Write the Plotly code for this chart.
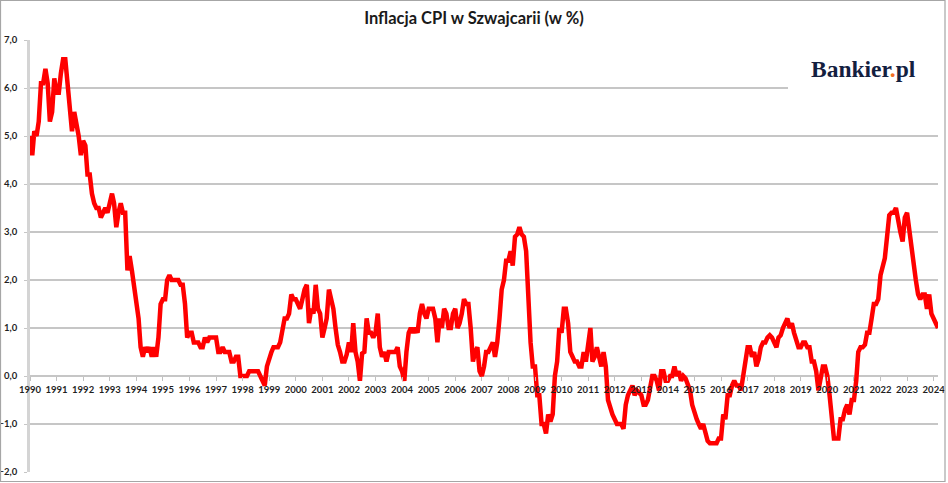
import pandas as pd
import plotly.graph_objects as go

# Monthly CPI inflation in Switzerland, y/y, %
cpi_1990 = [5.0, 4.6, 5.1, 5.0, 5.3, 6.1, 6.1, 6.4, 6.1, 5.3, 5.5, 6.2]
cpi_1991 = [5.9, 5.9, 6.3, 6.6, 6.6, 6.0, 5.6, 5.1, 5.5, 5.3, 5.0, 4.6]
cpi_1992 = [4.9, 4.8, 4.2, 4.2, 3.8, 3.6, 3.5, 3.5, 3.3, 3.4, 3.5, 3.4]
cpi_1993 = [3.6, 3.8, 3.6, 3.1, 3.4, 3.6, 3.4, 3.4, 2.2, 2.5, 2.2, 1.9]
cpi_1994 = [1.6, 1.2, 0.6, 0.4, 0.6, 0.5, 0.6, 0.4, 0.6, 0.4, 0.8, 1.5]
cpi_1995 = [1.6, 1.6, 2.0, 2.1, 2.0, 2.0, 2.0, 2.0, 1.9, 1.9, 1.5, 0.8]
cpi_1996 = [0.9, 0.9, 0.7, 0.7, 0.7, 0.6, 0.6, 0.8, 0.7, 0.8, 0.8, 0.8]
cpi_1997 = [0.8, 0.5, 0.5, 0.6, 0.5, 0.5, 0.5, 0.3, 0.3, 0.4, 0.4, 0.0]
cpi_1998 = [0.0, 0.0, 0.0, 0.1, 0.1, 0.1, 0.1, 0.1, 0.0, -0.1, -0.2, 0.2]
cpi_1999 = [0.4, 0.5, 0.6, 0.6, 0.6, 0.7, 0.9, 1.2, 1.2, 1.3, 1.7, 1.6]
cpi_2000 = [1.6, 1.5, 1.4, 1.6, 1.8, 1.9, 1.1, 1.4, 1.3, 1.9, 1.4, 1.3]
cpi_2001 = [0.8, 1.0, 1.2, 1.8, 1.6, 1.4, 1.0, 0.65, 0.5, 0.3, 0.3, 0.45]
cpi_2002 = [0.7, 0.5, 1.1, 0.5, 0.3, -0.1, 0.47, 0.5, 1.2, 0.9, 0.9, 0.8]
cpi_2003 = [0.9, 1.3, 0.6, 0.4, 0.5, 0.3, 0.5, 0.5, 0.5, 0.5, 0.6, 0.2]
cpi_2004 = [0.1, -0.1, 0.5, 0.9, 1.0, 0.9, 1.0, 0.9, 1.3, 1.5, 1.3, 1.2]
cpi_2005 = [1.4, 1.4, 1.4, 1.2, 0.7, 1.2, 1.0, 1.4, 1.3, 1.0, 1.0, 1.3]
cpi_2006 = [1.4, 1.0, 1.1, 1.3, 1.6, 1.5, 1.5, 1.0, 0.3, 0.5, 0.6, 0.1]
cpi_2007 = [0.0, 0.2, 0.5, 0.5, 0.6, 0.7, 0.4, 0.7, 1.2, 1.8, 2.0, 2.4]
cpi_2008 = [2.4, 2.6, 2.3, 2.9, 2.95, 3.1, 2.95, 2.9, 2.6, 1.5, 0.7, 0.2]
cpi_2009 = [0.2, -0.4, -0.4, -1.0, -1.0, -1.2, -0.8, -0.95, -0.8, 0.0, 0.3, 1.0]
cpi_2010 = [0.9, 1.4, 1.4, 1.1, 0.5, 0.4, 0.3, 0.3, 0.2, 0.2, 0.5, 0.3]
cpi_2011 = [0.6, 1.0, 0.3, 0.4, 0.6, 0.4, 0.2, 0.5, 0.2, -0.5, -0.7, -0.8]
cpi_2012 = [-0.9, -1.0, -1.0, -1.0, -1.1, -0.6, -0.4, -0.3, -0.2, -0.4, -0.3, -0.35]
cpi_2013 = [-0.4, -0.6, -0.6, -0.5, -0.2, 0.0, 0.0, -0.1, -0.3, 0.1, 0.1, -0.1]
cpi_2014 = [-0.1, 0.0, 0.0, 0.2, 0.0, 0.1, -0.1, 0.0, -0.05, -0.15, -0.3, -0.6]
cpi_2015 = [-0.8, -0.9, -1.0, -1.1, -1.0, -1.2, -1.35, -1.4, -1.4, -1.4, -1.4, -1.3]
cpi_2016 = [-1.3, -0.8, -0.9, -0.4, -0.4, -0.2, -0.1, -0.2, -0.2, -0.3, 0.0, 0.3]
cpi_2017 = [0.6, 0.6, 0.4, 0.5, 0.2, 0.35, 0.6, 0.7, 0.7, 0.8, 0.85, 0.8]
cpi_2018 = [0.7, 0.6, 0.8, 0.85, 1.0, 1.1, 1.2, 1.0, 1.1, 0.9, 0.7, 0.6]
cpi_2019 = [0.6, 0.7, 0.7, 0.6, 0.6, 0.3, 0.3, 0.1, -0.3, 0.0, 0.2, 0.2]
cpi_2020 = [0.0, -0.4, -0.9, -1.3, -1.3, -1.3, -0.9, -0.9, -0.7, -0.6, -0.8, -0.5]
cpi_2021 = [-0.5, -0.1, 0.5, 0.6, 0.6, 0.65, 0.9, 0.9, 1.2, 1.5, 1.5, 1.6]
cpi_2022 = [2.1, 2.35, 2.45, 2.9, 3.35, 3.4, 3.4, 3.5, 3.2, 3.0, 2.8, 3.3]
cpi_2023 = [3.4, 3.0, 2.6, 2.3, 2.0, 1.7, 1.6, 1.7, 1.7, 1.4, 1.7, 1.3]
cpi_2024 = [1.2, 1.1, 1.0]

yearly = [cpi_1990, cpi_1991, cpi_1992, cpi_1993, cpi_1994, cpi_1995, cpi_1996,
          cpi_1997, cpi_1998, cpi_1999, cpi_2000, cpi_2001, cpi_2002, cpi_2003,
          cpi_2004, cpi_2005, cpi_2006, cpi_2007, cpi_2008, cpi_2009, cpi_2010,
          cpi_2011, cpi_2012, cpi_2013, cpi_2014, cpi_2015, cpi_2016, cpi_2017,
          cpi_2018, cpi_2019, cpi_2020, cpi_2021, cpi_2022, cpi_2023, cpi_2024]
values = [v for year in yearly for v in year]
dates = pd.date_range("1990-01-01", periods=len(values), freq="MS")

tick_years = list(range(1990, 2025))
tick_vals = [pd.Timestamp(f"{y}-01-01") for y in tick_years]
tick_text = [str(y) for y in tick_years]

W, H = 948, 483
ML, MR, MT, MB = 30, 10, 40, 11
PW, PH = W - ML - MR, H - MT - MB

def px(xp):
    return (xp - ML) / PW

def py(yp):
    return (H - MB - yp) / PH

fig = go.Figure()
fig.add_trace(go.Scatter(
    x=dates, y=values, mode="lines",
    line=dict(color="#ff0000", width=4.5),
    hoverinfo="x+y", showlegend=False,
))

axis_font = dict(family="Lato, Carlito, sans-serif", size=9.5, color="#1f1f1f", weight="bold")

fig.update_layout(
    width=W, height=H,
    margin=dict(l=ML, r=MR, t=MT, b=MB, pad=0, autoexpand=False),
    paper_bgcolor="white", plot_bgcolor="white",
    separators=", ",
    title=dict(
        text="Inflacja CPI w Szwajcarii (w %)",
        x=0.5, xref="container", y=1 - 18 / H, yref="container",
        xanchor="center", yanchor="middle",
        font=dict(family="Lato, Carlito, sans-serif", size=16.5, color="#1a1a1a", weight="bold"),
    ),
    xaxis=dict(
        type="date",
        range=[dates[0], dates[-1]],
        tickmode="array", tickvals=tick_vals, ticktext=tick_text,
        showgrid=False, zeroline=False,
        showline=False,
        ticks="outside", ticklen=4, tickcolor="#c0c0c0", tickwidth=1.2,
        tickfont=axis_font,
        anchor="free", position=2 / 9,
        ticklabelstandoff=1,
        automargin=False,
    ),
    yaxis=dict(
        range=[-2, 7], dtick=1, tick0=0,
        tickformat=".1f",
        showgrid=True, gridcolor="#c6c6c6", gridwidth=1.5,
        zeroline=False,
        showline=True, linecolor="#d4d4d4", linewidth=2.5,
        ticks="outside", ticklen=3, tickcolor="#c6c6c6",
        tickfont=axis_font,
        ticklabelstandoff=5,
        automargin=False,
    ),
    shapes=[
        # white box behind the logo
        dict(type="rect", xref="paper", yref="paper",
             x0=px(788), x1=px(944), y0=py(95), y1=py(33),
             fillcolor="white", line=dict(width=0), layer="above"),
        # outer frame
        dict(type="rect", xref="paper", yref="paper",
             x0=px(0.5), x1=px(945), y0=py(481.5), y1=py(0.5),
             fillcolor="rgba(0,0,0,0)", line=dict(color="#a6a6a6", width=1.2), layer="above"),
    ],
    annotations=[
        dict(text="Bankier<span style='color:#f36f21'>.</span>pl",
             xref="paper", yref="paper", x=px(863), y=py(69),
             xanchor="center", yanchor="middle", showarrow=False,
             font=dict(family="Liberation Serif, DejaVu Serif, serif", size=23.5,
                       color="#13203f", weight="bold")),
    ],
)

fig.write_html(
    "out.html",
    config={"displayModeBar": False},
    post_script="document.body.style.margin='0';document.body.style.overflow='hidden';",
)
